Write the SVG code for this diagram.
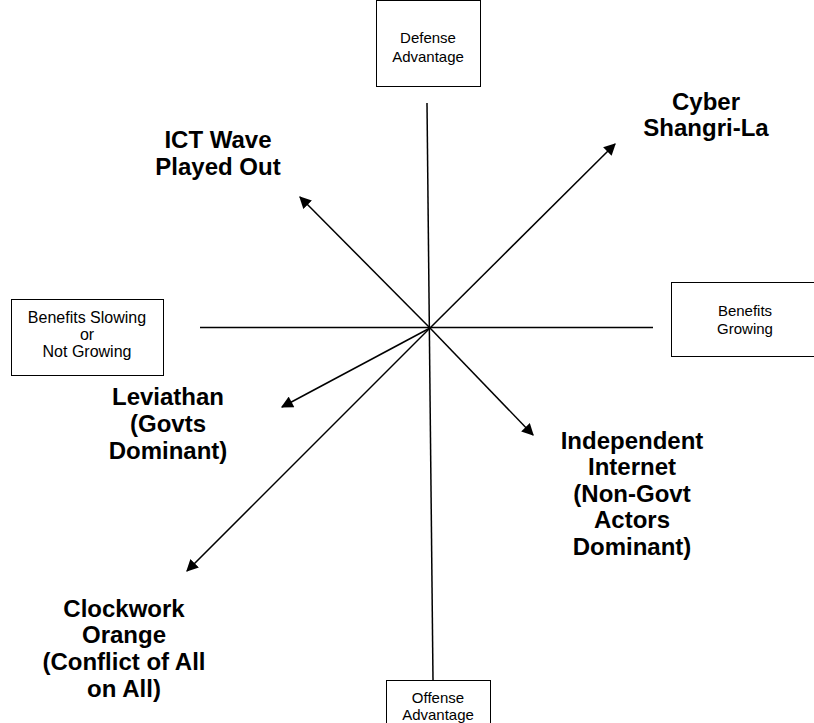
<svg xmlns="http://www.w3.org/2000/svg" width="814" height="723" viewBox="0 0 814 723">
<style>
.box{fill:#fff;stroke:#000;stroke-width:1}
.ln{stroke:#000;stroke-width:1.5;fill:none}
.sm{font-family:"Liberation Sans",Arial,sans-serif;font-size:15px;fill:#000;text-anchor:middle}
.lb{font-family:"Liberation Sans",Arial,sans-serif;font-size:24px;font-weight:bold;fill:#000;text-anchor:middle}
</style>
<defs>
<marker id="ah" viewBox="0 0 10 10" refX="9" refY="5" markerWidth="13" markerHeight="12" markerUnits="userSpaceOnUse" orient="auto">
<path d="M0,0 L10,5 L0,10 z" fill="#000"/>
</marker>
</defs>
<g id="connectors">
<line class="ln" x1="427" y1="103" x2="433" y2="680"/>
<line class="ln" x1="200" y1="327.5" x2="653" y2="327.5"/>
<line class="ln" x1="430" y1="328" x2="300" y2="197" marker-end="url(#ah)"/>
<line class="ln" x1="430" y1="328" x2="615" y2="144" marker-end="url(#ah)"/>
<line class="ln" x1="430" y1="328" x2="282" y2="407" marker-end="url(#ah)"/>
<line class="ln" x1="430" y1="328" x2="533" y2="435" marker-end="url(#ah)"/>
<line class="ln" x1="430" y1="328" x2="187" y2="571" marker-end="url(#ah)"/>
</g>
<g id="defense">
<rect class="box" x="376.5" y="0.5" width="104" height="86"/>
<text class="sm" x="428" y="43">Defense</text>
<text class="sm" x="428" y="62">Advantage</text>
</g>
<g id="slowing">
<rect class="box" x="11.5" y="299.5" width="152" height="76"/>
<text class="sm" x="87" y="323" style="font-size:16px">Benefits Slowing</text>
<text class="sm" x="87" y="340" style="font-size:16px">or</text>
<text class="sm" x="87" y="357" style="font-size:16px">Not Growing</text>
</g>
<g id="growing">
<rect class="box" x="671.5" y="282.5" width="144" height="74"/>
<text class="sm" x="745" y="316">Benefits</text>
<text class="sm" x="745" y="334">Growing</text>
</g>
<g id="offense">
<rect class="box" x="386.5" y="680.5" width="104" height="50"/>
<text class="sm" x="438" y="703">Offense</text>
<text class="sm" x="438" y="720">Advantage</text>
</g>
<g id="cyber">
<text class="lb" x="706" y="110">Cyber</text>
<text class="lb" x="706" y="136">Shangri-La</text>
</g>
<g id="ict">
<text class="lb" x="218" y="148">ICT Wave</text>
<text class="lb" x="218" y="175">Played Out</text>
</g>
<g id="leviathan">
<text class="lb" x="168" y="405">Leviathan</text>
<text class="lb" x="168" y="432">(Govts</text>
<text class="lb" x="168" y="459">Dominant)</text>
</g>
<g id="independent">
<text class="lb" x="632" y="449">Independent</text>
<text class="lb" x="632" y="475">Internet</text>
<text class="lb" x="632" y="502">(Non-Govt</text>
<text class="lb" x="632" y="528">Actors</text>
<text class="lb" x="632" y="555">Dominant)</text>
</g>
<g id="clockwork">
<text class="lb" x="124" y="617">Clockwork</text>
<text class="lb" x="124" y="643">Orange</text>
<text class="lb" x="124" y="670">(Conflict of All</text>
<text class="lb" x="124" y="697">on All)</text>
</g>
</svg>
